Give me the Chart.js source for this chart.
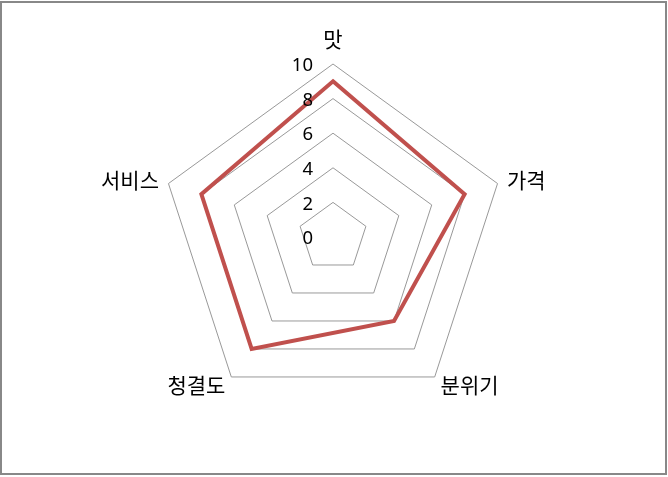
<!DOCTYPE html>
<html>
<head>
<meta charset="utf-8">
<script src="https://cdn.jsdelivr.net/npm/chart.js@4/dist/chart.umd.min.js"></script>
<style>
  body { margin: 0; background: #fff; }
  #wrap { width: 668px; height: 477px; position: relative; }
</style>
</head>
<body>
<div id="wrap"><canvas id="radarChart"></canvas></div>
<script>
// 항목, 점수, 눈금
const categories = ['맛', '가격', '분위기', '청결도', '서비스'];
const scores = [9, 8, 6, 8, 8];
const tickValues = [0, 2, 4, 6, 8, 10];

const labelFont = '21px "Noto Sans CJK KR", "Noto Sans", sans-serif';
const tickFont = '18.5px "Noto Sans", "Noto Sans CJK KR", sans-serif';

// 바깥 테두리 + 눈금/항목 라벨 (엑셀 스타일 위치)
const excelStyle = {
  id: 'excelStyle',
  beforeDraw(chart) {
    const ctx = chart.ctx;
    ctx.save();
    ctx.fillStyle = '#fff';
    ctx.fillRect(0, 0, chart.width, chart.height);
    ctx.strokeStyle = '#888888';
    ctx.lineWidth = 2;
    ctx.strokeRect(1, 2, 665, 472);
    ctx.restore();
  },
  afterDraw(chart) {
    const ctx = chart.ctx;
    const r = chart.scales.r;
    ctx.save();
    ctx.fillStyle = '#000';

    // 눈금 라벨
    ctx.font = tickFont;
    ctx.textAlign = 'right';
    ctx.textBaseline = 'middle';
    r.ticks.forEach(t => {
      if (tickValues.indexOf(t.value) < 0) return;
      const d = r.getDistanceFromCenterForValue(t.value);
      ctx.fillText(String(t.value), r.xCenter - 20, r.yCenter - d + 2);
    });

    // 항목 라벨
    ctx.font = labelFont;
    categories.forEach((name, i) => {
      const extra = i === 0 ? 25 : 10;
      const p = r.getPointPosition(i, r.drawingArea + extra);
      if (Math.abs(p.x - r.xCenter) < 2) ctx.textAlign = 'center';
      else ctx.textAlign = p.x > r.xCenter ? 'left' : 'right';
      ctx.textBaseline = 'middle';
      ctx.fillText(name, p.x, p.y);
    });
    ctx.restore();
  }
};

new Chart(document.getElementById('radarChart'), {
  type: 'radar',
  data: {
    labels: categories,
    datasets: [{
      label: '점수',
      data: scores,
      borderColor: '#c0504d',
      borderWidth: 4,
      fill: false,
      pointRadius: 0,
      tension: 0
    }]
  },
  options: {
    responsive: true,
    maintainAspectRatio: false,
    animation: false,
    layout: { padding: { top: 64, bottom: 67, left: 0, right: 2 } },
    plugins: {
      legend: { display: false },
      tooltip: { enabled: false }
    },
    scales: {
      r: {
        min: 0,
        max: 10,
        beginAtZero: true,
        angleLines: { display: false },
        grid: { color: '#999999', lineWidth: 1 },
        ticks: { display: false, stepSize: 2 },
        pointLabels: { display: false }
      }
    }
  },
  plugins: [excelStyle]
});
</script>
</body>
</html>
